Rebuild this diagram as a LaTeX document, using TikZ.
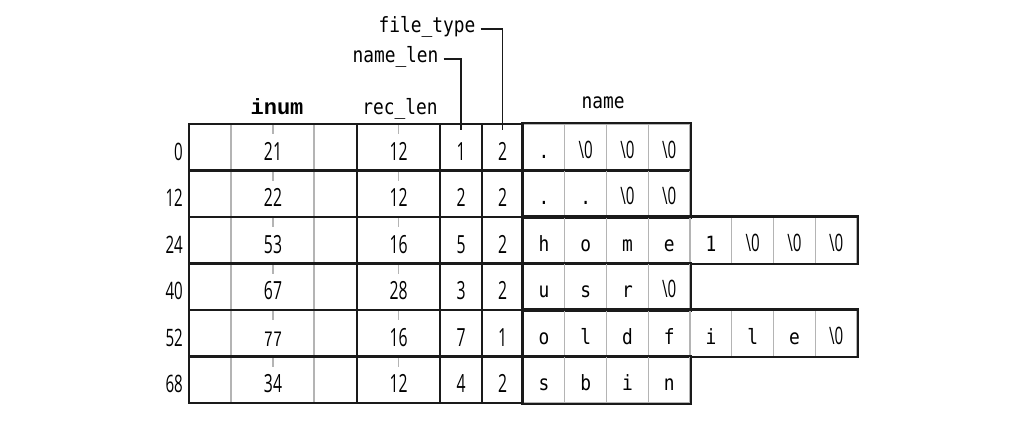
\documentclass[tikz,border=0pt]{standalone}
\usepackage{fontspec}
\setmainfont{Open Sans}
\newfontfamily\cnd[FakeStretch=0.63]{Open Sans}
\newfontfamily\tty[FakeStretch=0.85]{DejaVu Sans Mono}
\newfontfamily\crr[FakeStretch=0.7]{Liberation Mono}
\newfontfamily\crb{Liberation Mono}
\usetikzlibrary{positioning}

\definecolor{ln}{HTML}{1A1A1A}
\definecolor{gr}{HTML}{B4B4B4}

\newcommand{\nul}{{\cnd\fontsize{24}{24}\selectfont\textbackslash0}}
\newcommand{\dt}{.}
\newcommand{\tw}[1]{{\crr\fontsize{22}{22}\selectfont #1}}

\tikzset{
 fld/.style
  = {rectangle, draw=ln, line width=2.4pt, inner sep=0pt, minimum height=46.5pt,
     text height=25.5pt, text depth=0pt, font=\cnd\fontsize{25}{25}\selectfont},
 byte/.style
  = {rectangle, draw=gr, line width=1.4pt, inner sep=0pt, minimum width=41.75pt,
     minimum height=46.5pt, text height=22pt, text depth=0pt,
     font=\tty\fontsize{21}{21}\selectfont},
 frm/.style
  = {draw=ln, line width=2.4pt},
 tk/.style
  = {draw=gr, line width=1.4pt},
 hdr/.style
  = {anchor=base, inner sep=0pt, font=\tty\fontsize{21}{21}\selectfont},
 ofs/.style
  = {anchor=base east, inner sep=0pt, font=\cnd\fontsize{24}{24}\selectfont},
 call/.style
  = {draw=ln, line width=1.5pt},
}

\begin{document}
\begin{tikzpicture}[x=1pt, y=-1pt]
\useasboundingbox (0,0) rectangle (1011,433);

% Field headers
\node[hdr, font=\crb\bfseries\fontsize{22}{22}\selectfont] (inum) at (277,115) {inum};
\node[hdr] (rlen) at (400,115) {rec\_len};
\node[hdr] (name) at (603,109) {name};
\node[hdr] (nlen) at (395.5,63) {name\_len};
\node[hdr] (ftyp) at (427,33) {file\_type};

% Directory entries
\foreach \o/\inr/\rl/\nl/\ft/\nn/\nm [count=\i from 0] in {
  0/21/12/1/2/4/{\dt,\nul,\nul,\nul},
  12/22/12/2/2/4/{\dt,\dt,\nul,\nul},
  24/53/16/5/2/8/{h,o,m,e,1,\nul,\nul,\nul},
  40/67/28/3/2/4/{u,s,r,\nul},
  52/\tw{77}/16/7/1/8/{o,l,d,f,i,l,e,\nul},
  68/34/12/4/2/4/{s,b,i,n}}{
  \pgfmathsetmacro\cy{147.25+46.5*\i}
  \draw[tk] (231,\cy-23.25) -- ++(0,46.5) (314,\cy-23.25) -- ++(0,46.5);
  \draw[tk] (273,\cy-23.25) -- ++(0,10) (398.5,\cy-23.25) -- ++(0,10);
  \node[fld, minimum width=168pt] (inum\i) at (273,\cy) {\inr};
  \node[fld, minimum width=83pt] (rlen\i) at (398.5,\cy) {\rl};
  \node[fld, minimum width=42pt] (nlen\i) at (461,\cy) {\nl};
  \node[fld, minimum width=41pt] (ftyp\i) at (502.5,\cy) {\ft};
  \foreach \c [count=\k] in \nm
    \node[byte] (nm\i-\k) at ({523+41.75*(\k-0.5)},\cy) {\c};
  \draw[frm] (nm\i-1.north west) rectangle (nm\i-\nn.south east);
  \node[ofs] (ofs\i) at (183,\cy+12.75) {\o};
}

% Callouts
\draw[call] ([xshift=5pt,yshift=4pt]nlen.base east) -| ([yshift=-7pt]nlen0.north);
\draw[call] ([xshift=5pt,yshift=4pt]ftyp.base east) -| ([yshift=-7pt]ftyp0.north);

\end{tikzpicture}
\end{document}
